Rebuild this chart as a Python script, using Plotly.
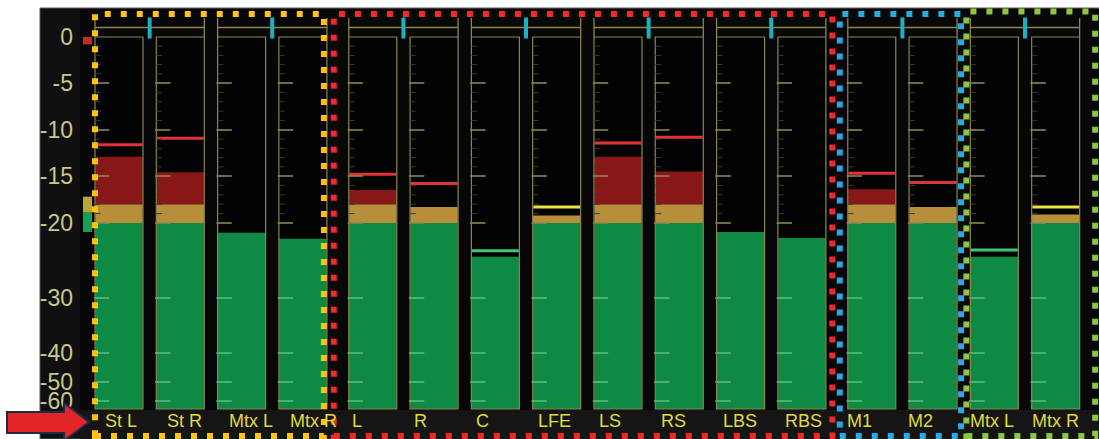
import numpy as np
import plotly.graph_objects as go

# channel strips, left to right
channels = ["St L", "St R", "Mtx L", "Mtx R", "L", "R", "C", "LFE",
            "LS", "RS", "LBS", "RBS", "M1", "M2", "Mtx L", "Mtx R"]
group_of = [0, 0, 0, 0, 1, 1, 1, 1, 1, 1, 1, 1, 2, 2, 3, 3]

# current level (dBFS) and peak-hold (None = no hold line shown)
levels = [-12.9, -14.6, -21.3, -22.1, -16.5, -18.3, -24.5, -19.2,
          -12.9, -14.5, -21.2, -22.0, -16.4, -18.3, -24.5, -19.1]
peaks = [-11.6, -10.9, None, None, -14.8, -15.8, -23.7, -18.3,
         -11.4, -10.8, None, None, -14.7, -15.7, -23.6, -18.3]

# meter scale is not linear: dB -> position on the meter
scale_db = [-70, -60, -50, -40, -30, -20, -15, -10, -5, 0]
scale_pos = [30, 38, 57, 86, 141, 216, 263, 309, 356, 402]
tick_db = [0, -5, -10, -15, -20, -30, -40, -50, -60]
tick_text = ["0", "-5", "-10", "-15", "-20", "-30", "-40", "-50", "-60"]
major_db = [-5, -10, -15, -20]
low_db = [-30, -40, -50, -60]
minor_db = [-1, -2, -3, -4, -6, -7, -8, -9, -11, -12, -13, -14, -16, -17, -18, -19]

# reference-level indicator beside the scale (dB ranges)
ref_lo = [-0.8, -18.9, -21.2]
ref_hi = [0.0, -17.2, -18.9]
ref_col = ["#c42a2a", "#b9a43c", "#14a050"]

GREEN = "#0f8a45"
AMBER = "#b78f3b"
RED = "#8a1717"
OLIVE = "#8a874f"
CYAN = "#1fb0bf"
BOX_COLS = ["#ffc20e", "#ee2a2a", "#2aa8e0", "#8cc63f"]
BOX_PAD = [(0, -3), (15, 6.5), (8, 4), (4, 15.5)]   # px left/right padding

W, H = 1099, 439
ML = 78
UNIT = 61.3
X0_PX = 119
xmin = -(X0_PX - ML) / UNIT
xmax = xmin + (W - ML) / UNIT


def pos(db):
    return np.interp(db, scale_db, scale_pos)


def dx(px):
    return px / UNIT


def data_x(px):
    return xmin + (px - ML) / UNIT


def paper_x(px):
    return (px - ML) / (W - ML)


def paper_y(py):
    return (H - py) / H


group_shift = [0, 0.14, 0.28, 0.28]
xs = np.array([i + group_shift[g] for i, g in enumerate(group_of)])
n = len(xs)
HALF = dx(24)
lv = np.array(levels)
bottom = pos(-70)
top = pos(0)

fig = go.Figure()

# meter background
fig.add_trace(go.Bar(x=xs, y=[top - bottom] * n, base=bottom, width=2 * HALF,
                     marker=dict(color="#030303", line_width=0)))
# green / amber / red segments
fig.add_trace(go.Bar(x=xs, y=pos(np.minimum(lv, -20)) - bottom, base=bottom,
                     width=2 * HALF - 0.01, marker=dict(color=GREEN, line_width=0)))
fig.add_trace(go.Bar(x=xs, y=pos(np.clip(lv, -20, -18)) - pos(-20), base=pos(-20),
                     width=2 * HALF - 0.01, marker=dict(color=AMBER, line_width=0)))
fig.add_trace(go.Bar(x=xs, y=pos(np.maximum(lv, -18)) - pos(-18), base=pos(-18),
                     width=2 * HALF - 0.01, marker=dict(color=RED, line_width=0)))

# peak hold lines
px_, py_, pc_ = [], [], []
for x, p in zip(xs, peaks):
    if p is None:
        continue
    px_.append(x)
    py_.append(pos(p) - 1.5)
    pc_.append("#e2323a" if p > -18 else ("#e8e24a" if p > -20 else "#3cc878"))
fig.add_trace(go.Bar(x=px_, y=[3] * len(px_), base=py_, width=2 * HALF - 0.02,
                     marker=dict(color=pc_, line_width=0)))

# scale ticks inside each meter
def tick_trace(dbs, length, color, width):
    tx = [x - HALF + dx(length / 2 + 1) for x in xs for _ in dbs]
    ty = [pos(d) for _ in xs for d in dbs]
    return go.Scatter(x=tx, y=ty, mode="markers",
                      marker=dict(symbol="line-ew", size=length,
                                  line=dict(color=color, width=width)))

fig.add_trace(tick_trace(minor_db, 4, "#3a392c", 1))
fig.add_trace(tick_trace(major_db, 11, OLIVE, 1.6))
fig.add_trace(tick_trace(low_db, 11, "#5cb97c", 1.6))

# stereo-pair headers
hx, hy = [], []
cx = []
for i in range(0, n, 2):
    l, r = xs[i] - HALF, xs[i + 1] + HALF
    hx += [l, r, None, l, l, None, r, r, None]
    hy += [411.5, 411.5, None, 402, 421, None, 402, 421, None]
    cx.append((xs[i] + xs[i + 1]) / 2)
fig.add_trace(go.Scatter(x=hx, y=hy, mode="lines", line=dict(color=OLIVE, width=1.3)))
fig.add_trace(go.Scatter(x=cx, y=[411] * len(cx), mode="markers",
                         marker=dict(symbol="line-ns", size=15, line=dict(color=CYAN, width=4))))

# meter outlines
fig.add_trace(go.Bar(x=xs, y=[top - bottom] * n, base=bottom, width=2 * HALF,
                     marker=dict(color="rgba(0,0,0,0)", line=dict(color=OLIVE, width=1.2))))

# reference indicator beside the scale
fig.add_trace(go.Bar(x=[data_x(87.5)] * 3, y=pos(np.array(ref_hi)) - pos(np.array(ref_lo)),
                     base=pos(np.array(ref_lo)), width=dx(9),
                     marker=dict(color=ref_col, line_width=0)))

shapes = [
    dict(type="rect", xref="paper", yref="paper", x0=paper_x(40), x1=1,
         y0=0, y1=paper_y(8), fillcolor="#101010", line=dict(color="#5a5a5a", width=1),
         layer="below"),
    dict(type="rect", xref="paper", yref="paper", x0=paper_x(80), x1=1,
         y0=paper_y(410), y1=paper_y(9), fillcolor="#070707", line_width=0, layer="below"),
    dict(type="rect", xref="paper", yref="paper", x0=paper_x(80), x1=1,
         y0=0, y1=paper_y(410), fillcolor="#151515", line_width=0, layer="below"),
]

# dotted channel-group boxes
for g, col in enumerate(BOX_COLS):
    idx = [i for i in range(n) if group_of[i] == g]
    pl, pr = BOX_PAD[g]
    x0 = xs[idx[0]] - HALF - dx(pl)
    x1 = xs[idx[-1]] + HALF + dx(pr)
    top_py = 11.5 if g == 3 else 14
    shapes.append(dict(type="rect", xref="x", yref="paper", x0=x0, x1=x1,
                       y0=paper_y(436), y1=paper_y(top_py),
                       line=dict(color=col, width=6, dash="6px,10px"),
                       fillcolor="rgba(0,0,0,0)", layer="above"))

# red arrow pointing at the channel names
arrow = [(7, 412), (64, 412), (64, 403), (89, 422), (64, 441), (64, 433), (7, 433)]
path = "M " + " L ".join(f"{paper_x(a)},{paper_y(b)}" for a, b in arrow) + " Z"
shapes.append(dict(type="path", xref="paper", yref="paper", path=path,
                   fillcolor="#e42528", line=dict(color="#1d2b4b", width=2), layer="above"))

annotations = []
for i, name in enumerate(channels):
    annotations.append(dict(x=data_x(103 + 61.8 * i), y=paper_y(421), xref="x", yref="paper",
                            text=name, showarrow=False, xanchor="left", yanchor="middle",
                            font=dict(family="Liberation Sans, Arial", size=18, color="#e2db3c")))

fig.update_layout(
    width=W, height=H,
    margin=dict(l=ML, r=0, t=0, b=0),
    paper_bgcolor="white", plot_bgcolor="rgba(0,0,0,0)",
    barmode="overlay", showlegend=False, hovermode=False,
    shapes=shapes, annotations=annotations,
    xaxis=dict(range=[xmin, xmax], visible=False, fixedrange=True),
    yaxis=dict(range=[0, H], tickvals=pos(np.array(tick_db)), ticktext=tick_text,
               showgrid=False, zeroline=False, showline=False, ticks="",
               ticklabelstandoff=4, fixedrange=True,
               tickfont=dict(family="Liberation Sans Narrow, Arial Narrow, Liberation Sans",
                             size=23, color="#c9c88c")),
)

fig.write_html("out.html", config={"displayModeBar": False},
               post_script="document.body.style.margin='0';document.body.style.overflow='hidden';")
